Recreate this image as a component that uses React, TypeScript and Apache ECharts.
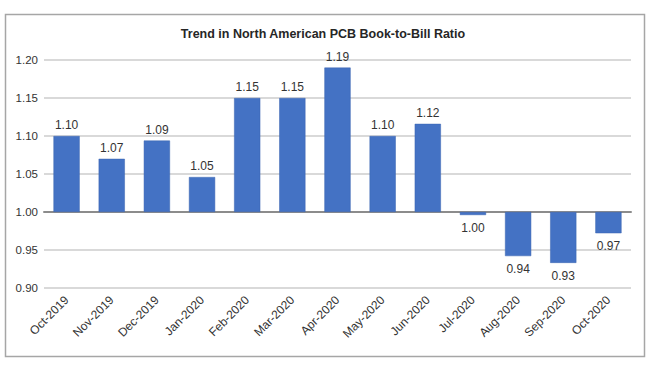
import React, { useEffect, useRef } from "react";
import * as echarts from "echarts";

const categories = ["Oct-2019", "Nov-2019", "Dec-2019", "Jan-2020", "Feb-2020", "Mar-2020", "Apr-2020", "May-2020", "Jun-2020", "Jul-2020", "Aug-2020", "Sep-2020", "Oct-2020"];
const ratios = [1.10, 1.07, 1.094, 1.046, 1.15, 1.15, 1.19, 1.10, 1.116, 0.996, 0.942, 0.933, 0.972];
const baseline = 1.0;
const titleText = "Trend in North American PCB Book-to-Bill Ratio";

export default function App() {
  const ref = useRef<HTMLDivElement>(null);
  useEffect(() => {
    if (!ref.current) return;
    const chart = echarts.init(ref.current, null, { renderer: "svg" });
    const font = "'Liberation Sans', Arial, sans-serif";
    chart.setOption({
      animation: false,
      backgroundColor: "#ffffff",
      title: {
        text: titleText,
        left: 318,
        textAlign: "center",
        top: 22,
        textStyle: { fontFamily: font, fontSize: 12.5, fontWeight: "bold", color: "#262626" },
      },
      graphic: [
        {
          type: "rect",
          shape: { x: 5.5, y: 14.5, width: 639, height: 342 },
          style: { fill: "none", stroke: "#a6a6a6", lineWidth: 1.5 },
          silent: true,
        },
      ],
      grid: { left: 44, right: 19, top: 60, bottom: 77, containLabel: false },
      xAxis: {
        type: "category",
        data: categories,
        axisLine: { onZero: true, lineStyle: { color: "#8c8c8c", width: 2 } },
        axisTick: { show: false },
        axisLabel: {
          rotate: 45,
          interval: 0,
          fontFamily: font,
          fontSize: 12,
          color: "#333333",
          margin: 10,
        },
        position: "bottom",
      },
      yAxis: {
        type: "value",
        min: -0.1,
        max: 0.2,
        interval: 0.05,
        axisLine: { show: false },
        axisTick: { show: false },
        splitLine: { lineStyle: { color: "#d9d9d9", width: 2 } },
        axisLabel: {
          fontFamily: font,
          fontSize: 11.5,
          color: "#333333",
          margin: 6,
          formatter: (v: number) => (v + baseline).toFixed(2),
        },
      },
      series: [
        {
          type: "bar",
          barWidth: "58%",
          itemStyle: { color: "#4472C4", borderColor: "#3a64b0", borderWidth: 0.5 },
          data: ratios.map((r) => ({
            value: r - baseline,
            label: {
              show: true,
              position: r >= baseline ? "top" : "bottom",
              distance: r >= baseline ? 5 : 7,
              fontFamily: font,
              fontSize: 12,
              color: "#333333",
              formatter: () => r.toFixed(2),
            },
          })),
        },
      ],
    });
    return () => chart.dispose();
  }, []);
  return (
    <div
      ref={ref}
      style={{ position: "fixed", left: 0, top: 0, width: 650, height: 365 }}
    />
  );
}
